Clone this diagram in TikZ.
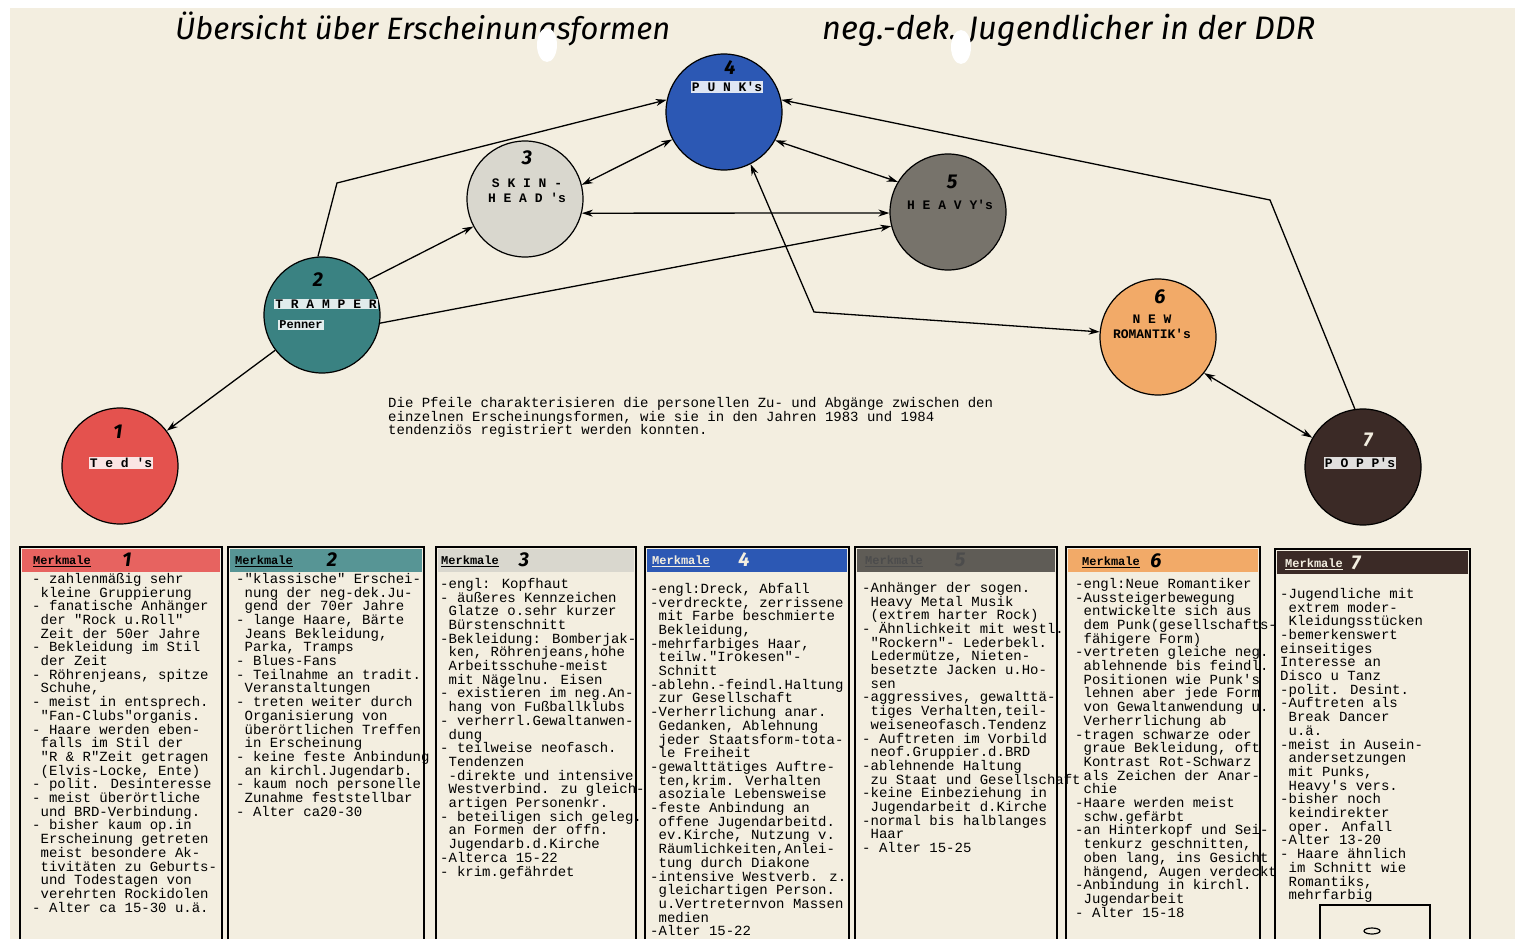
\documentclass[tikz,border=0pt]{standalone}
\usepackage{fontspec}
\usepackage{graphicx}
\setmainfont{Liberation Serif}
\newfontfamily\typeFont{Liberation Mono}
\newfontfamily\handFont{Fira Sans}
\usetikzlibrary{arrows.meta}

\definecolor{paper}{HTML}{F3EEE0}
\definecolor{tedRed}{HTML}{E4524E}
\definecolor{trampTeal}{HTML}{3A8282}
\definecolor{skinGray}{HTML}{D9D7CE}
\definecolor{punkBlue}{HTML}{2C58B4}
\definecolor{heavyGray}{HTML}{77736B}
\definecolor{romOrange}{HTML}{F2AA68}
\definecolor{poppBrown}{HTML}{3B2A26}

\newcommand{\ind}{\hspace*{0.6em}}
\newcommand{\colFont}{\typeFont\fontsize{14}{13.7}\selectfont\lineskiplimit=-20pt\relax}

\begin{document}
\begin{tikzpicture}[x=1pt, y=-1pt,
    circStyle/.style={circle, draw, line width=1.2pt, minimum size=116pt, inner sep=0pt},
    numStyle/.style={font=\handFont\bfseries\itshape\fontsize{20}{20}\selectfont, inner sep=0pt},
    labStyle/.style={font=\typeFont\bfseries\fontsize{13}{15}\selectfont, align=center, inner sep=1pt},
    patchStyle/.style={labStyle, fill=white, fill opacity=0.85, text opacity=1},
    headStyle/.style={anchor=west, font=\typeFont\bfseries\fontsize{12}{12}\selectfont, inner sep=0pt},
    textStyle/.style={anchor=north west, align=left, inner sep=0pt, font=\colFont},
    titleStyle/.style={anchor=base west, inner sep=0pt, font=\handFont\itshape\fontsize{26}{26}\selectfont},
    boxStyle/.style={line width=1.5pt},
    arrowStyle/.style={line width=1.3pt, -{Stealth[length=11pt, width=7pt]}},
    twoWay/.style={line width=1.3pt, {Stealth[length=11pt, width=7pt]}-{Stealth[length=11pt, width=7pt]}}]
    \useasboundingbox (0,0) rectangle (1522,939);
    \fill[white] (0,0) rectangle (1522,939);
    \fill[paper] (10,8) rectangle (1515,939);

    % title
    \node[titleStyle] (title_L) at (175,40) {\resizebox{495pt}{!}{Übersicht über Erscheinungsformen}};
    \node[titleStyle] (title_R) at (822,40) {\resizebox{493pt}{!}{neg.-dek. Jugendlicher in der DDR}};
    \fill[white] (547,45) ellipse (10 and 17);
    \fill[white] (961,47) ellipse (10 and 17);

    % circles
    \node[circStyle, fill=tedRed]    (circ_1) at (120,466)  {};
    \node[circStyle, fill=trampTeal] (circ_2) at (322,315)  {};
    \node[circStyle, fill=skinGray]  (circ_3) at (525,199)  {};
    \node[circStyle, fill=punkBlue]  (circ_4) at (724,112)  {};
    \node[circStyle, fill=heavyGray] (circ_5) at (948,212)  {};
    \node[circStyle, fill=romOrange] (circ_6) at (1158,337) {};
    \node[circStyle, fill=poppBrown] (circ_7) at (1363,467) {};

    \node[numStyle]   (num_1) at (118,432)  {1};
    \node[patchStyle] (lab_1) at (121,463)  {T e d 's};
    \node[numStyle]   (num_2) at (318,280)  {2};
    \node[patchStyle] (lab_2) at (326,304)  {T R A M P E R};
    \node[patchStyle, font=\typeFont\bfseries\fontsize{12}{12}\selectfont] (lab_2b) at (301,325) {Penner};
    \node[numStyle]   (num_3) at (527,158)  {3};
    \node[labStyle]   (lab_3) at (527,191)  {S K I N -\\H E A D 's};
    \node[numStyle]   (num_4) at (730,68)   {4};
    \node[patchStyle] (lab_4) at (727,87)   {P U N K's};
    \node[numStyle]   (num_5) at (952,182)  {5};
    \node[labStyle]   (lab_5) at (950,205)  {H E A V Y's};
    \node[numStyle]   (num_6) at (1160,297) {6};
    \node[labStyle]   (lab_6) at (1152,327) {N E W\\ROMANTIK's};
    \node[numStyle, text=paper] (num_7) at (1368,440) {7};
    \node[patchStyle] (lab_7) at (1360,463) {P O P P's};

    % corners of the bent connectors
    \coordinate (corner_24) at (337,183);
    \coordinate (corner_46) at (814,312);
    \coordinate (corner_74) at (1270,200);

    \draw[arrowStyle] (circ_2.217) -- (circ_1.37);
    \draw[arrowStyle] (circ_2.37) -- (circ_3.208);
    \draw[arrowStyle] (circ_2.352) -- (circ_5.194);
    \draw[arrowStyle] (circ_2.94) -- (corner_24) -- (circ_4.168);
    \draw[twoWay] (circ_3.14) -- (circ_4.208);
    \draw[twoWay] (circ_3.346) -- (circ_5.181);
    \draw[twoWay] (circ_4.331) -- (circ_5.149);
    \draw[twoWay] (circ_4.297) -- (corner_46) -- (circ_6.175);
    \draw[arrowStyle] (circ_7.98) -- (corner_74) -- (circ_4.12);
    \draw[twoWay] (circ_6.322) -- (circ_7.150);

    % caption
    \node[textStyle] (caption) at (388,397) {Die Pfeile charakterisieren die personellen Zu- und Abgänge zwischen den\\einzelnen Erscheinungsformen, wie sie in den Jahren 1983 und 1984\\tendenziös registriert werden konnten.};

    % header bands
    \fill[tedRed!90]     (22,549)   rectangle (220,572);
    \fill[trampTeal!85]  (230,549)  rectangle (422,572);
    \fill[skinGray]      (438,549)  rectangle (634,572);
    \fill[punkBlue]      (647,549)  rectangle (847,572);
    \fill[heavyGray!80!black] (857,549) rectangle (1055,572);
    \fill[romOrange]     (1068,549) rectangle (1258,572);
    \fill[poppBrown]     (1277,551) rectangle (1468,574);

    % boxes
    \draw[boxStyle] (20,939)   |- (222,547)  -- (222,939);
    \draw[boxStyle] (228,939)  |- (424,547)  -- (424,939);
    \draw[boxStyle] (436,939)  |- (636,547)  -- (636,939);
    \draw[boxStyle] (645,939)  |- (849,547)  -- (849,939);
    \draw[boxStyle] (855,939)  |- (1057,547) -- (1057,939);
    \draw[boxStyle] (1066,939) |- (1260,547) -- (1260,939);
    \draw[boxStyle] (1275,939) |- (1470,549) -- (1470,939);
    \draw[line width=1.2pt] (1320,939) |- (1430,905) -- (1430,939);
    \draw[line width=1.2pt] (1372,931) ellipse (8 and 3);

    % headers
    \node[headStyle] (head_1) at (33,561)   {\underline{Merkmale}};
    \node[numStyle]  (hnum_1) at (127,560)  {1};
    \node[headStyle] (head_2) at (235,561)  {\underline{Merkmale}};
    \node[numStyle]  (hnum_2) at (332,560)  {2};
    \node[headStyle] (head_3) at (441,561)  {\underline{Merkmale}};
    \node[numStyle]  (hnum_3) at (524,560)  {3};
    \node[headStyle, text=paper] (head_4) at (652,561) {\underline{Merkmale}};
    \node[numStyle, text=paper]  (hnum_4) at (744,560) {4};
    \node[headStyle, text=black!70] (head_5) at (865,561) {\underline{Merkmale}};
    \node[numStyle, text=black!70]  (hnum_5) at (960,560) {5};
    \node[headStyle] (head_6) at (1082,562) {\underline{Merkmale}};
    \node[numStyle]  (hnum_6) at (1156,561) {6};
    \node[headStyle, text=paper] (head_7) at (1285,564) {\underline{Merkmale}};
    \node[numStyle, text=paper]  (hnum_7) at (1356,563) {7};

    % column texts
    \node[textStyle] (text_1) at (32,573) {- zahlenmäßig sehr\\
        \ind kleine Gruppierung\\
        - fanatische Anhänger\\
        \ind der "Rock u.Roll"\\
        \ind Zeit der 50er Jahre\\
        - Bekleidung im Stil\\
        \ind der Zeit\\
        - Röhrenjeans, spitze\\
        \ind Schuhe,\\
        - meist in entsprech.\\
        \ind "Fan-Clubs"organis.\\
        - Haare werden eben-\\
        \ind falls im Stil der\\
        \ind "R \& R"Zeit getragen\\
        \ind (Elvis-Locke, Ente)\\
        - polit. Desinteresse\\
        - meist überörtliche\\
        \ind und BRD-Verbindung.\\
        - bisher kaum op.in\\
        \ind Erscheinung getreten\\
        \ind meist besondere Ak-\\
        \ind tivitäten zu Geburts-\\
        \ind und Todestagen von\\
        \ind verehrten Rockidolen\\
        - Alter ca 15-30 u.ä.};

    \node[textStyle] (text_2) at (236,573) {-"klassische" Erschei-\\
        \ind nung der neg-dek.Ju-\\
        \ind gend der 70er Jahre\\
        - lange Haare, Bärte\\
        \ind Jeans Bekleidung,\\
        \ind Parka, Tramps\\
        - Blues-Fans\\
        - Teilnahme an tradit.\\
        \ind Veranstaltungen\\
        - treten weiter durch\\
        \ind Organisierung von\\
        \ind überörtlichen Treffen\\
        \ind in Erscheinung\\
        - keine feste Anbindung\\
        \ind an kirchl.Jugendarb.\\
        - kaum noch personelle\\
        \ind Zunahme feststellbar\\
        - Alter ca20-30};

    \node[textStyle] (text_3) at (440,578) {-engl: Kopfhaut\\
        - äußeres Kennzeichen\\
        \ind Glatze o.sehr kurzer\\
        \ind Bürstenschnitt\\
        -Bekleidung: Bomberjak-\\
        \ind ken, Röhrenjeans,hohe\\
        \ind Arbeitsschuhe-meist\\
        \ind mit Nägelnu. Eisen\\
        - existieren im neg.An-\\
        \ind hang von Fußballklubs\\
        - verherrl.Gewaltanwen-\\
        \ind dung\\
        - teilweise neofasch.\\
        \ind Tendenzen\\
        \ind -direkte und intensive\\
        \ind Westverbind. zu gleich-\\
        \ind artigen Personenkr.\\
        - beteiligen sich geleg.\\
        \ind an Formen der offn.\\
        \ind Jugendarb.d.Kirche\\
        -Alterca 15-22\\
        - krim.gefährdet};

    \node[textStyle] (text_4) at (650,583) {-engl:Dreck, Abfall\\
        -verdreckte, zerrissene\\
        \ind mit Farbe beschmierte\\
        \ind Bekleidung,\\
        -mehrfarbiges Haar,\\
        \ind teilw."Irokesen"-\\
        \ind Schnitt\\
        -ablehn.-feindl.Haltung\\
        \ind zur Gesellschaft\\
        -Verherrlichung anar.\\
        \ind Gedanken, Ablehnung\\
        \ind jeder Staatsform-tota-\\
        \ind le Freiheit\\
        -gewalttätiges Auftre-\\
        \ind ten,krim. Verhalten\\
        \ind asoziale Lebensweise\\
        -feste Anbindung an\\
        \ind offene Jugendarbeitd.\\
        \ind ev.Kirche, Nutzung v.\\
        \ind Räumlichkeiten,Anlei-\\
        \ind tung durch Diakone\\
        -intensive Westverb. z.\\
        \ind gleichartigen Person.\\
        \ind u.Vertreternvon Massen\\
        \ind medien\\
        -Alter 15-22};

    \node[textStyle] (text_5) at (862,582) {-Anhänger der sogen.\\
        \ind Heavy Metal Musik\\
        \ind (extrem harter Rock)\\
        - Ähnlichkeit mit westl.\\
        \ind "Rockern"- Lederbekl.\\
        \ind Ledermütze, Nieten-\\
        \ind besetzte Jacken u.Ho-\\
        \ind sen\\
        -aggressives, gewalttä-\\
        \ind tiges Verhalten,teil-\\
        \ind weiseneofasch.Tendenz\\
        - Auftreten im Vorbild\\
        \ind neof.Gruppier.d.BRD\\
        -ablehnende Haltung\\
        \ind zu Staat und Gesellschaft\\
        -keine Einbeziehung in\\
        \ind Jugendarbeit d.Kirche\\
        -normal bis halblanges\\
        \ind Haar\\
        - Alter 15-25};

    \node[textStyle] (text_6) at (1075,578) {-engl:Neue Romantiker\\
        -Aussteigerbewegung\\
        \ind entwickelte sich aus\\
        \ind dem Punk(gesellschafts-\\
        \ind fähigere Form)\\
        -vertreten gleiche neg.\\
        \ind ablehnende bis feindl.\\
        \ind Positionen wie Punk's\\
        \ind lehnen aber jede Form\\
        \ind von Gewaltanwendung u.\\
        \ind Verherrlichung ab\\
        -tragen schwarze oder\\
        \ind graue Bekleidung, oft\\
        \ind Kontrast Rot-Schwarz\\
        \ind als Zeichen der Anar-\\
        \ind chie\\
        -Haare werden meist\\
        \ind schw.gefärbt\\
        -an Hinterkopf und Sei-\\
        \ind tenkurz geschnitten,\\
        \ind oben lang, ins Gesicht\\
        \ind hängend, Augen verdeckt\\
        -Anbindung in kirchl.\\
        \ind Jugendarbeit\\
        - Alter 15-18};

    \node[textStyle] (text_7) at (1280,588) {-Jugendliche mit\\
        \ind extrem moder-\\
        \ind Kleidungsstücken\\
        -bemerkenswert\\
        einseitiges\\
        Interesse an\\
        Disco u Tanz\\
        -polit. Desint.\\
        -Auftreten als\\
        \ind Break Dancer\\
        \ind u.ä.\\
        -meist in Ausein-\\
        \ind andersetzungen\\
        \ind mit Punks,\\
        \ind Heavy's vers.\\
        -bisher noch\\
        \ind keindirekter\\
        \ind oper. Anfall\\
        -Alter 13-20\\
        - Haare ähnlich\\
        \ind im Schnitt wie\\
        \ind Romantiks,\\
        \ind mehrfarbig};
\end{tikzpicture}
\end{document}
